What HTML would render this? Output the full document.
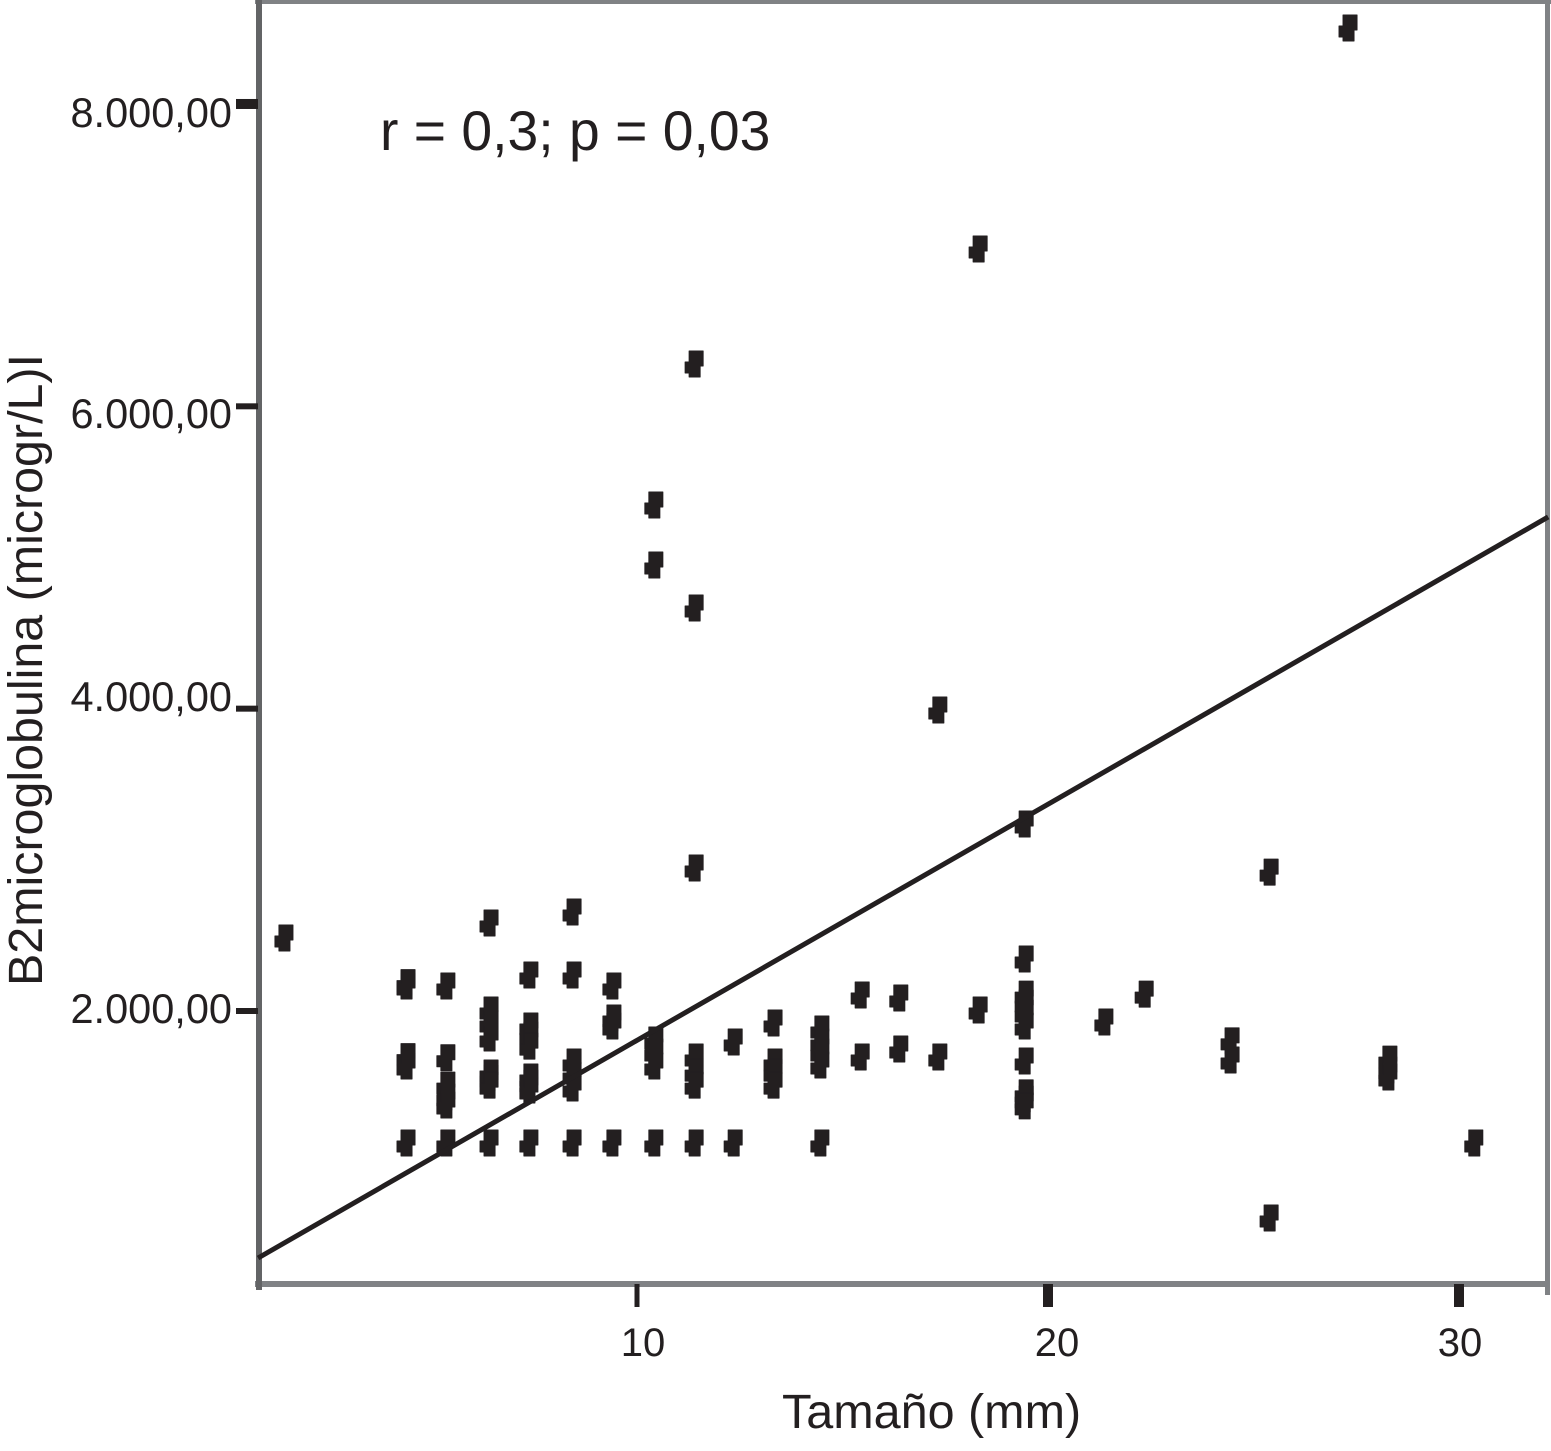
<!DOCTYPE html>
<html lang="es">
<head>
<meta charset="utf-8">
<title>B2microglobulina vs Tamaño</title>
<style>
html,body{margin:0;padding:0;background:#fff;}
svg{display:block;}
text{font-family:"Liberation Sans",Arial,sans-serif;fill:#231f20;}
</style>
</head>
<body>
<svg id="chart" xmlns="http://www.w3.org/2000/svg" width="1551" height="1451" viewBox="0 0 1551 1451">
  <rect x="0" y="0" width="1551" height="1451" fill="#fff"/>
  <g id="frame">
    <rect x="255" y="-2" width="1296" height="6" fill="#808285"/>
    <rect x="1545" y="0" width="5" height="1295" fill="#808285"/>
    <rect x="255" y="1281" width="1295" height="6" fill="#808285"/>
    <rect x="256" y="0" width="6" height="1290" fill="#636466"/>
  </g>
  <g id="ticks"></g>
  <g id="points"></g>
  <line id="fit" stroke="#231f20" stroke-width="5"/>
  <g font-size="41.5" text-anchor="end">
    <text x="232" y="127">8.000,00</text>
    <text x="232" y="428">6.000,00</text>
    <text x="232" y="711">4.000,00</text>
    <text x="232" y="1023">2.000,00</text>
  </g>
  <g font-size="40" text-anchor="middle">
    <text x="643" y="1356">10</text>
    <text x="1057" y="1356">20</text>
    <text x="1460" y="1356">30</text>
  </g>
  <text x="782" y="1428" font-size="48.5">Tamaño (mm)</text>
  <text transform="translate(42,986) rotate(-90)" font-size="48.4">B2microglobulina (microgr/L)I</text>
  <text x="380" y="150" font-size="55.3">r = 0,3; p = 0,03</text>
</svg>
<script>
const xTicks = [10, 20, 30];
const yTicks = [2000, 4000, 6000, 8000];

const tamano = [
  1.41,
  4.38, 4.38, 4.38, 4.38, 4.38,
  5.35, 5.35, 5.35, 5.35, 5.35, 5.35,
  6.4, 6.4, 6.4, 6.4, 6.4, 6.4, 6.4, 6.4,
  7.37, 7.37, 7.37, 7.37, 7.37, 7.37, 7.37, 7.37,
  8.42, 8.42, 8.42, 8.42, 8.42, 8.42,
  9.39, 9.39, 9.39, 9.39,
  10.41, 10.41, 10.41, 10.41, 10.41, 10.41,
  11.39, 11.39, 11.39, 11.39, 11.39, 11.39, 11.39,
  12.34, 12.34,
  13.31, 13.31, 13.31, 13.31,
  14.45, 14.45, 14.45, 14.45, 14.45,
  15.43, 15.43,
  16.37, 16.37,
  17.32, 17.32,
  18.3, 18.3,
  19.42, 19.42, 19.42, 19.42, 19.42, 19.42, 19.42, 19.42, 19.42, 19.42,
  21.36,
  22.34,
  24.43, 24.43,
  25.38, 25.38,
  27.3,
  28.27, 28.27, 28.27,
  30.36
];
const b2microglobulina = [
  2483,
  2188, 2165, 1698, 1636, 1127,
  2165, 1691, 1510, 1431, 1378, 1127,
  2582, 2007, 1921, 1821, 1590, 1557, 1510, 1127,
  2238, 1901, 1841, 1768, 1563, 1524, 1477, 1127,
  2655, 2238, 1663, 1577, 1491, 1127,
  2165, 1954, 1901, 1127,
  5347, 4950, 1808, 1729, 1636, 1127,
  6280, 4666, 2946, 1696, 1596, 1510, 1127,
  1795, 1127,
  1921, 1663, 1596, 1510,
  1881, 1795, 1729, 1643, 1127,
  2106, 1696,
  2086, 1749,
  3991, 1696,
  7041, 2007,
  3237, 2344, 2112, 2053, 1987, 1901, 1669, 1458, 1418, 1372,
  1927,
  2112,
  1802, 1676,
  2919, 631,
  8503,
  1682, 1610, 1563,
  1127
];
const fitX = [0.78, 32.17];
const fitY = [366, 5268];

const SVG_NS = 'http://www.w3.org/2000/svg';
function xScale(v) { return 637 + (v - 10) * 41.1; }
function yScale(v) { return 1011 - (v - 2000) * 0.15117; }

const pointsGroup = document.getElementById('points');
tamano.forEach(function (t, i) {
  const cx = xScale(t);
  const cy = yScale(b2microglobulina[i]);
  const marker = document.createElementNS(SVG_NS, 'path');
  marker.setAttribute('d',
    'M' + (cx - 5) + ' ' + (cy - 13) +
    'h14v15h-3v11h-11v-4h-4v-11h4z');
  marker.setAttribute('fill', '#231f20');
  marker.setAttribute('stroke', '#231f20');
  marker.setAttribute('stroke-width', '1');
  marker.setAttribute('stroke-linejoin', 'round');
  
  
  pointsGroup.appendChild(marker);
});

const ticksGroup = document.getElementById('ticks');
yTicks.forEach(function (v) {
  const tick = document.createElementNS(SVG_NS, 'rect');
  const h = v === 8000 ? 10 : 6;
  tick.setAttribute('x', 236);
  tick.setAttribute('y', yScale(v) - h / 2);
  tick.setAttribute('width', 22);
  tick.setAttribute('height', h);
  tick.setAttribute('fill', '#231f20');
  
  
  ticksGroup.appendChild(tick);
});
xTicks.forEach(function (v) {
  const tick = document.createElementNS(SVG_NS, 'rect');
  const w = v === 10 ? 5 : 10;
  tick.setAttribute('x', xScale(v) - w / 2);
  tick.setAttribute('y', 1284);
  tick.setAttribute('width', w);
  tick.setAttribute('height', 23);
  tick.setAttribute('fill', '#231f20');
  
  
  ticksGroup.appendChild(tick);
});

const fit = document.getElementById('fit');
fit.setAttribute('x1', xScale(fitX[0]));
fit.setAttribute('y1', yScale(fitY[0]));
fit.setAttribute('x2', xScale(fitX[1]));
fit.setAttribute('y2', yScale(fitY[1]));
</script>
</body>
</html>
